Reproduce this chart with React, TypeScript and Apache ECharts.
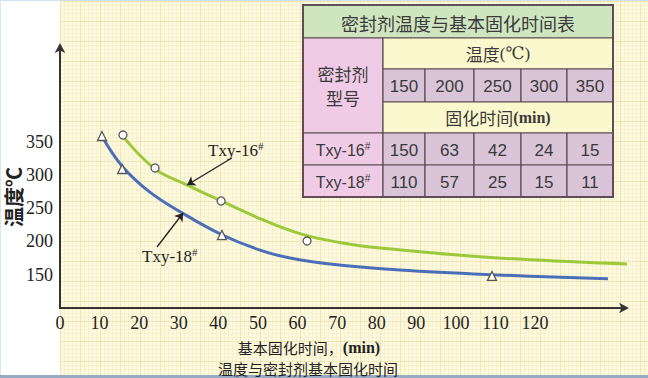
import React, { useEffect, useRef } from "react";
import * as echarts from "echarts";

// ---- data ----
const temps = [150, 200, 250, 300, 350];
const time16 = [150, 63, 42, 24, 15];
const time18 = [110, 57, 25, 15, 11];

const xTicks = [0, 10, 20, 30, 40, 50, 60, 70, 80, 90, 100, 110, 120];
const yTicks = [150, 200, 250, 300, 350];

// fitted curves as drawn (time, temperature)
const curve16: [number, number][] = [
  [16, 357], [24, 309], [32, 285], [41, 260], [51, 233], [61, 211],
  [71, 198], [81, 190], [106, 177], [131, 169], [144.7, 166],
];
const curve18: [number, number][] = [
  [10.6, 358], [15.7, 313], [22.7, 274], [30.8, 243], [40.9, 210],
  [50.5, 187], [58.1, 175], [68.2, 166], [85.9, 157], [109.1, 150], [138.4, 144],
];
// measured points
const points16: [number, number][] = [[15.9, 359.8], [24.0, 310.3], [40.7, 260.7], [62.4, 200.6]];
const points18: [number, number][] = [[10.6, 358.3], [15.7, 308.8], [40.9, 209.6], [109.1, 148.1]];

// annotation arrows (from, to) in data coords
const arrow16: [number, number][] = [[43.4, 325.3], [32.1, 284.7]];
const arrow18: [number, number][] = [[24.5, 191.6], [31.1, 242.7]];

const labels16 = "Txy-16";
const labels18 = "Txy-18";

const SERIF = "'Liberation Serif', 'DejaVu Serif', serif";
const SANS = "'Liberation Sans', Arial, sans-serif";
const CJK = "'Noto Sans CJK SC', sans-serif";

function buildTable() {
  const left = 303;
  const colX = [383, 425, 474, 521, 567, 613];
  const rowY = [5, 38, 69, 102, 133, 165, 197];
  const border = "#5e4d55";
  const green = "#cfe5c0";
  const pink = "#efcbe6";
  const yellow = "#fbf8cd";
  const lilac = "#d9c4d8";
  const txt = "#3a3a3a";
  const els: any[] = [];
  const rect = (x: number, y: number, w: number, h: number, fill: string) =>
    els.push({
      type: "rect",
      shape: { x, y, width: w, height: h },
      style: { fill, stroke: border, lineWidth: 1.2 },
      z: 10,
    });
  const text = (x: number, y: number, t: string, fs: number, ff: string, rich?: any, lh?: number) =>
    els.push({
      type: "text",
      x,
      y,
      style: {
        text: t,
        fontSize: fs,
        fontFamily: ff,
        fill: txt,
        align: "center",
        verticalAlign: "middle",
        lineHeight: lh,
        rich,
      },
      z: 11,
    });
  const right = colX[colX.length - 1];
  // title
  rect(left, rowY[0], right - left, rowY[1] - rowY[0], green);
  text((left + right) / 2, (rowY[0] + rowY[1]) / 2 + 1, "密封剂温度与基本固化时间表", 18, CJK);
  // merged left cell
  rect(left, rowY[1], colX[0] - left, rowY[4] - rowY[1], pink);
  text((left + colX[0]) / 2, (rowY[1] + rowY[4]) / 2, "密封剂\n型号", 17, CJK, undefined, 24);
  // temperature header
  rect(colX[0], rowY[1], right - colX[0], rowY[2] - rowY[1], yellow);
  text((colX[0] + right) / 2, (rowY[1] + rowY[2]) / 2, "{a|温度}{b|(℃)}", 17, CJK, {
    a: { fontSize: 17, fontFamily: CJK, fill: txt },
    b: { fontSize: 17, fontFamily: SERIF, fill: txt },
  });
  // temperature values
  temps.forEach((t, i) => {
    rect(colX[i], rowY[2], colX[i + 1] - colX[i], rowY[3] - rowY[2], lilac);
    text((colX[i] + colX[i + 1]) / 2, (rowY[2] + rowY[3]) / 2 + 1, String(t), 17, SANS);
  });
  // time header
  rect(colX[0], rowY[3], right - colX[0], rowY[4] - rowY[3], yellow);
  text((colX[0] + right) / 2, (rowY[3] + rowY[4]) / 2, "{a|固化时间}{b|(min)}", 17, CJK, {
    a: { fontSize: 17, fontFamily: CJK, fill: txt },
    b: { fontSize: 16, fontFamily: SERIF, fontWeight: "bold", fill: txt },
  });
  const rows: [string, number[]][] = [
    [labels16, time16],
    [labels18, time18],
  ];
  rows.forEach(([name, vals], r) => {
    const y0 = rowY[4 + r];
    const y1 = rowY[5 + r];
    rect(left, y0, colX[0] - left, y1 - y0, pink);
    text((left + colX[0]) / 2, (y0 + y1) / 2 + 1, "{a|" + name + "}{s|#}", 16, SANS, {
      a: { fontSize: 16, fontFamily: SANS, fill: txt },
      s: { fontSize: 10, fontFamily: SANS, fill: txt, padding: [0, 0, 8, 0] },
    });
    vals.forEach((v, i) => {
      rect(colX[i], y0, colX[i + 1] - colX[i], y1 - y0, lilac);
      text((colX[i] + colX[i + 1]) / 2, (y0 + y1) / 2 + 1, String(v), 17, SANS);
    });
  });
  // outer border
  els.push({
    type: "rect",
    shape: { x: left, y: rowY[0], width: right - left, height: rowY[6] - rowY[0] },
    style: { fill: "none", stroke: border, lineWidth: 2 },
    z: 12,
  });
  return els;
}

export default function App() {
  const ref = useRef<HTMLDivElement>(null);
  useEffect(() => {
    document.body.style.margin = "0";
    if (!ref.current) return;
    const chart = echarts.init(ref.current, null, { renderer: "svg" });
    const annot = (x: number, y: number, name: string) => ({
      type: "text",
      x,
      y,
      style: {
        text: "{a|" + name + "}{s|#}",
        align: "left",
        verticalAlign: "middle",
        rich: {
          a: { fontSize: 17, fontFamily: SERIF, fill: "#1e1e1e" },
          s: { fontSize: 11, fontFamily: SERIF, fill: "#1e1e1e", padding: [0, 0, 9, 0] },
        },
      },
      z: 20,
    });
    chart.setOption({
      animation: false,
      backgroundColor: "transparent",
      grid: { left: 60, right: 23, top: 47, bottom: 70, containLabel: false },
      xAxis: {
        type: "value",
        min: 0,
        max: 142.7,
        interval: 10,
        axisLine: {
          show: true,
          lineStyle: { color: "#333", width: 2 },
          symbol: ["none", "arrow"],
          symbolSize: [8, 10],
          symbolOffset: [0, 4],
        },
        axisTick: { show: false },
        splitLine: { show: false },
        axisLabel: {
          margin: 6,
          fontSize: 18,
          fontFamily: SERIF,
          color: "#222",
          showMaxLabel: false,
          formatter: (v: number) => (xTicks.includes(v) ? String(v) : ""),
        },
      },
      yAxis: {
        type: "value",
        min: 100,
        max: 492,
        interval: 50,
        axisLine: {
          show: true,
          lineStyle: { color: "#333", width: 2 },
          symbol: ["none", "arrow"],
          symbolSize: [8, 10],
          symbolOffset: [0, 4],
        },
        axisTick: { show: false },
        splitLine: { show: false },
        axisLabel: {
          margin: 7,
          fontSize: 18,
          fontFamily: SERIF,
          color: "#222",
          formatter: (v: number) => (yTicks.includes(v) ? String(v) : ""),
        },
      },
      series: [
        {
          type: "line",
          data: curve16,
          smooth: 0.4,
          showSymbol: false,
          clip: false,
          lineStyle: { color: "#9cc93c", width: 3 },
          z: 3,
        },
        {
          type: "line",
          data: curve18,
          smooth: 0.4,
          showSymbol: false,
          clip: false,
          lineStyle: { color: "#4b6fb6", width: 3 },
          z: 3,
        },
        {
          type: "scatter",
          data: points16,
          symbol: "circle",
          symbolSize: 8,
          itemStyle: { color: "#ffffff", borderColor: "#555", borderWidth: 1.3, opacity: 1 },
          z: 5,
          markLine: {
            silent: true,
            symbol: ["none", "arrow"],
            symbolSize: 8,
            label: { show: false },
            lineStyle: { color: "#222", width: 1.3, type: "solid" },
            data: [
              [{ coord: arrow16[0] }, { coord: arrow16[1] }],
              [{ coord: arrow18[0] }, { coord: arrow18[1] }],
            ],
          },
        },
        {
          type: "scatter",
          data: points18,
          symbol: "triangle",
          symbolSize: 9,
          itemStyle: { color: "#ffffff", borderColor: "#555", borderWidth: 1.3, opacity: 1 },
          z: 5,
        },
      ],
      graphic: [
        ...buildTable(),
        annot(208, 150, labels16),
        annot(142, 256, labels18),
        {
          type: "text",
          x: 13,
          y: 197,
          rotation: Math.PI / 2,
          style: {
            text: "温度℃",
            fontSize: 20,
            fontFamily: CJK,
            fontWeight: "bold",
            fill: "#222",
            align: "center",
            verticalAlign: "middle",
          },
          z: 20,
        },
        {
          type: "text",
          x: 309,
          y: 347,
          style: {
            text: "{a|基本固化时间，}{b|(min)}",
            align: "center",
            verticalAlign: "middle",
            rich: {
              a: { fontSize: 15, fontFamily: CJK, fill: "#222" },
              b: { fontSize: 16, fontFamily: SERIF, fontWeight: "bold", fill: "#222" },
            },
          },
          z: 20,
        },
        {
          type: "text",
          x: 308,
          y: 368,
          style: {
            text: "温度与密封剂基本固化时间",
            fontSize: 15,
            fontFamily: CJK,
            fill: "#222",
            align: "center",
            verticalAlign: "middle",
          },
          z: 20,
        },
      ],
    });
    return () => chart.dispose();
  }, []);

  const paper: React.CSSProperties = {
    position: "absolute",
    left: 60,
    top: 1,
    width: 588,
    height: 374,
    backgroundColor: "#fdf9de",
    backgroundImage:
      "linear-gradient(to right, rgba(232,205,130,0.32) 1px, transparent 1px)," +
      "linear-gradient(to bottom, rgba(232,205,130,0.32) 1px, transparent 1px)," +
      "linear-gradient(to right, rgba(238,220,160,0.22) 1px, transparent 1px)," +
      "linear-gradient(to bottom, rgba(238,220,160,0.22) 1px, transparent 1px)",
    backgroundSize: "20px 20px, 20px 20px, 4px 4px, 4px 4px",
  };

  return (
    <div style={{ position: "relative", width: 648, height: 378, background: "#fff", overflow: "hidden" }}>
      <div style={paper} />
      <div style={{ position: "absolute", left: 0, top: 0, width: 648, height: 1, background: "#cfe2ef" }} />
      <div style={{ position: "absolute", left: 0, top: 0, width: 1, height: 378, background: "#d8e8f2" }} />
      <div style={{ position: "absolute", left: 0, top: 375, width: 648, height: 3, background: "#94abc2" }} />
      <div ref={ref} style={{ position: "absolute", left: 0, top: 0, width: 648, height: 378 }} />
    </div>
  );
}
